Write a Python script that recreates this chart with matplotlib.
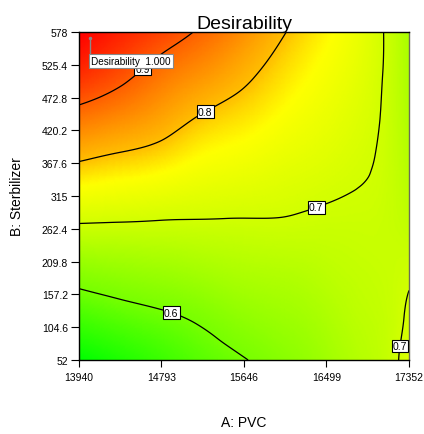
import numpy as np
import matplotlib
matplotlib.use('Agg')
from matplotlib import pyplot as plt
from matplotlib import tri
from matplotlib.colors import LinearSegmentedColormap

plt.rcParams['font.family'] = ['Liberation Sans', 'DejaVu Sans']

pvc = [13940, 14366.5, 14793, 15219.5, 15646, 16072.5, 16499, 16840, 17096, 17352]
stab = [52, 117.75, 183.5, 249.25, 315, 380.75, 446.5, 512.25, 578]

# desirability, one row per stab level (bottom -> top)
desir = [
    [0.520, 0.540, 0.560, 0.580, 0.598, 0.620, 0.645, 0.668, 0.683, 0.715],
    [0.565, 0.579, 0.591, 0.607, 0.627, 0.641, 0.659, 0.676, 0.685, 0.705],
    [0.614, 0.625, 0.634, 0.645, 0.657, 0.663, 0.674, 0.683, 0.688, 0.697],
    [0.678, 0.679, 0.680, 0.683, 0.686, 0.688, 0.688, 0.690, 0.690, 0.685],
    [0.744, 0.737, 0.730, 0.722, 0.717, 0.711, 0.703, 0.698, 0.692, 0.675],
    [0.811, 0.796, 0.782, 0.760, 0.748, 0.733, 0.720, 0.707, 0.694, 0.668],
    [0.883, 0.859, 0.831, 0.799, 0.779, 0.756, 0.735, 0.716, 0.696, 0.662],
    [0.954, 0.918, 0.877, 0.845, 0.812, 0.778, 0.750, 0.725, 0.698, 0.658],
    [1.000, 0.964, 0.929, 0.891, 0.848, 0.801, 0.765, 0.733, 0.699, 0.655],
]

levels = [0.6, 0.7, 0.8, 0.9]
label_pos = [(14622, 515), (15243, 451), (16380, 302), (14912, 137), (17259, 74.5)]

# colour scale stops (desirability -> colour)
color_d = [0.52, 0.60, 0.70, 0.76, 0.80, 0.90, 1.00]
color_c = ['#00ff00', '#78ff00', '#d2ff00', '#ffff00', '#ffbe00', '#ff5f00', '#ff0000']

xticks = [13940, 14793, 15646, 16499, 17352]
yticks = [52, 104.6, 157.2, 209.8, 262.4, 315, 367.6, 420.2, 472.8, 525.4, 578]
yticklabels = ['52', '104.6', '157.2', '209.8', '262.4', '315', '367.6',
               '420.2', '472.8', '525.4', '578']

# optimum flag
opt_pvc, opt_stab, opt_d = 14054, 569, 1.000

fig = plt.figure(figsize=(4.24, 4.35), dpi=100)
ax = fig.add_axes([79/424, 1-361/435, 330/424, 328/435])

# triangulate in coded units (0..1) so the smoothing is not stretched
X, Y = np.meshgrid(pvc, stab)
xs = pvc[-1] - pvc[0]
ys = stab[-1] - stab[0]
tr_c = tri.Triangulation((X.ravel() - pvc[0]) / xs, (Y.ravel() - stab[0]) / ys)
Z = np.array(desir).ravel()
tri_c, z_f = tri.UniformTriRefiner(tr_c).refine_field(Z, subdiv=5)
tri_f = tri.Triangulation(tri_c.x * xs + pvc[0], tri_c.y * ys + stab[0], tri_c.triangles)

lo, hi = color_d[0], color_d[-1]
cmap = LinearSegmentedColormap.from_list(
    'gyr', [((d - lo) / (hi - lo), c) for d, c in zip(color_d, color_c)])
ax.tripcolor(tri_f, z_f, shading='gouraud', cmap=cmap, vmin=lo, vmax=hi)
cs = ax.tricontour(tri_f, z_f, levels=levels, colors='black', linewidths=0.9)
txts = ax.clabel(cs, inline=False, fontsize=7.5, fmt='%.1f', manual=label_pos)
for t in txts:
    t.set_rotation(0)
    t.set_bbox(dict(boxstyle='square,pad=0.12', fc='white', ec='black', lw=0.8))

# flag for the optimum
ax.plot([opt_pvc, opt_pvc], [opt_stab, 540], color='#888888', lw=1, zorder=5)
ax.plot([opt_pvc], [opt_stab], marker='o', ms=1.5, color='#888888', zorder=5)
ax.text(opt_pvc + 15, 531, 'Desirability  %.3f' % opt_d, fontsize=7.2, va='center', ha='left',
        bbox=dict(boxstyle='square,pad=0.2', fc='white', ec='#888888', lw=0.8), zorder=6)

ax.set_xlim(pvc[0], pvc[-1])
ax.set_ylim(stab[0], stab[-1])
ax.set_xticks(xticks)
ax.set_xticklabels([str(v) for v in xticks])
ax.set_yticks(yticks)
ax.set_yticklabels(yticklabels)
ax.tick_params(axis='x', length=5, pad=3.5, labelsize=7.5)
ax.tick_params(axis='y', length=5.5, pad=2.5, labelsize=7.5)
for s in ax.spines.values():
    s.set_linewidth(1)
ax.spines['right'].set_color('#6b6b5a')

ax.set_title('Desirability', fontsize=14, pad=2)
ax.set_xlabel('A: PVC', fontsize=10, labelpad=24)
ax.set_ylabel('B: Sterbilizer', fontsize=10, labelpad=13)

fig.savefig('out.png', dpi=100)
